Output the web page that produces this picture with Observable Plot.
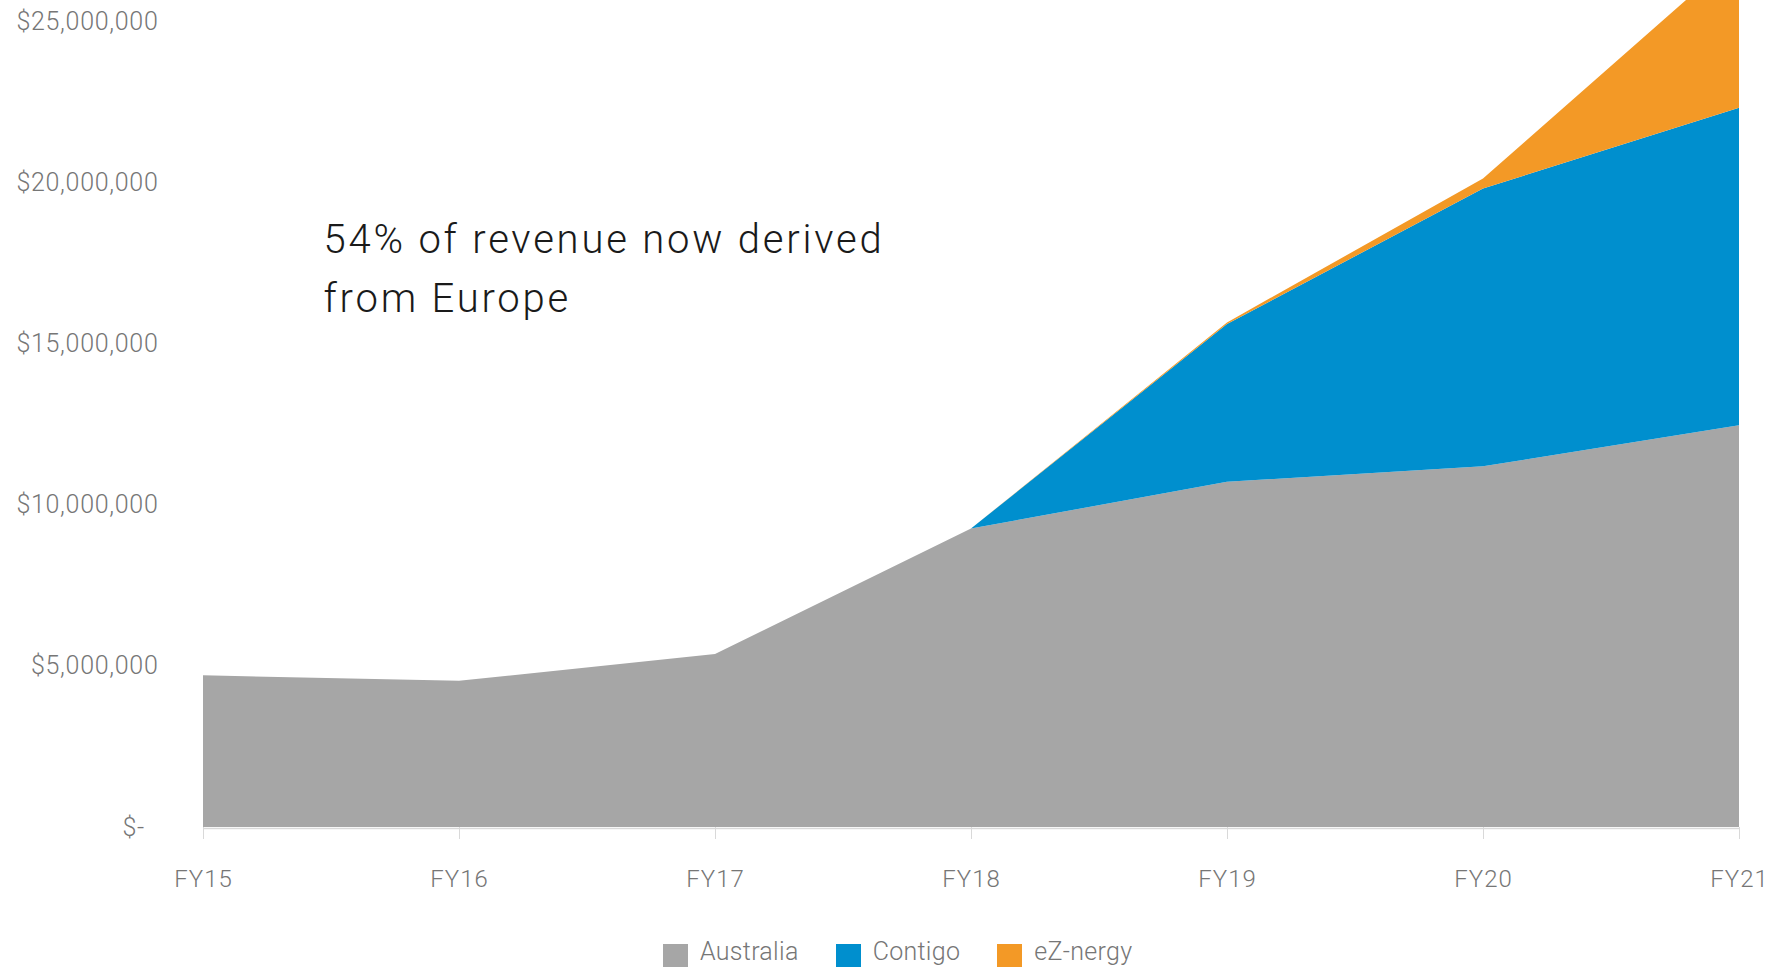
<!DOCTYPE html>
<html>
<head>
<meta charset="utf-8">
<script src="https://cdn.jsdelivr.net/npm/d3@7"></script>
<script src="https://cdn.jsdelivr.net/npm/@observablehq/plot@0.6"></script>
<style>
  html, body { margin: 0; padding: 0; background: #fff; }
  #wrap { position: relative; width: 1778px; height: 967px; overflow: hidden; }
  #legend { position: absolute; left: 663px; top: 939px; display: flex; align-items: flex-start;
            font-family: Roboto, "Liberation Sans", sans-serif; font-weight: 300; font-size: 25px; color: #767676; letter-spacing: 0.3px; }
  #legend .item { display: flex; align-items: flex-start; margin-right: 37px; }
  #legend .sw { width: 25px; height: 25px; margin-top: 5px; margin-right: 12px; }
  #legend .lab { line-height: 25px; }
  g[aria-label="text"] text { letter-spacing: 2.8px; }
  g[aria-label="y-axis tick label"] text { letter-spacing: 0.7px; }
  g[aria-label="x-axis tick label"] text { letter-spacing: 1px; }
</style>
</head>
<body>
<div id="wrap"><div id="chart"></div><div id="legend"></div></div>
<script>
const years = [2015, 2016, 2017, 2018, 2019, 2020, 2021];
const fyLabels = ["FY15", "FY16", "FY17", "FY18", "FY19", "FY20", "FY21"];
const australia = [4.71e6, 4.54e6, 5.37e6, 9.27e6, 10.72e6, 11.20e6, 12.48e6];
const contigo   = [null, null, null, 0, 4.90e6, 8.63e6, 9.86e6];
const eznergy   = [null, null, null, 0, 0.05e6, 0.31e6, 4.79e6];
const seriesNames = ["Australia", "Contigo", "eZ-nergy"];
const seriesColors = ["#a6a6a6", "#008fce", "#f39926"];
const yTicks = [0, 5e6, 10e6, 15e6, 20e6, 25e6];
const yTickLabels = ["$-\u00a0\u00a0", "$5,000,000", "$10,000,000", "$15,000,000", "$20,000,000", "$25,000,000"];
const annotation = "54% of revenue now derived\nfrom Europe";

const seriesValues = [australia, contigo, eznergy];
const rows = [];
seriesNames.forEach((name, s) => {
  years.forEach((yr, i) => {
    const v = seriesValues[s][i];
    if (v !== null) rows.push({year: yr, series: name, value: v});
  });
});

const chart = Plot.plot({
  width: 1778,
  height: 930,
  marginLeft: 203,
  marginRight: 39,
  marginTop: 0,
  marginBottom: 103,
  style: {fontFamily: "Roboto, 'Liberation Sans', sans-serif", fontWeight: 300, background: "#fff"},
  x: {domain: [years[0], years[years.length - 1]]},
  y: {domain: [0, 25.683e6]},
  color: {domain: seriesNames, range: seriesColors},
  marks: [
    Plot.areaY(rows, {x: "year", y: "value", fill: "series", order: seriesNames, clip: "frame"}),
    Plot.ruleY([0], {stroke: "#d9d9d9", strokeWidth: 1.5, dy: 1}),
    Plot.axisX({
      ticks: years,
      tickFormat: d => fyLabels[years.indexOf(d)],
      tickSize: 12,
      tickPadding: 30,
      stroke: "#d9d9d9",
      fill: "#767676",
      fontSize: 24,
      label: null
    }),
    Plot.axisY({
      ticks: yTicks,
      tickFormat: d => yTickLabels[yTicks.indexOf(d)],
      tickSize: 0,
      tickPadding: 45,
      fill: "#767676",
      fontSize: 25,
      label: null
    }),
    Plot.text([annotation], {
      text: d => d,
      frameAnchor: "top-left",
      textAnchor: "start",
      lineAnchor: "top",
      dx: 120,
      dy: 211,
      fontSize: 40,
      lineHeight: 1.475,
      fill: "#1a1a1a"
    })
  ]
});
document.getElementById("chart").appendChild(chart);

const legend = document.getElementById("legend");
seriesNames.forEach((name, i) => {
  const item = document.createElement("div");
  item.className = "item";
  const sw = document.createElement("div");
  sw.className = "sw";
  sw.style.background = seriesColors[i];
  const lab = document.createElement("span");
  lab.className = "lab";
  lab.textContent = name;
  item.appendChild(sw);
  item.appendChild(lab);
  legend.appendChild(item);
});
</script>
</body>
</html>
